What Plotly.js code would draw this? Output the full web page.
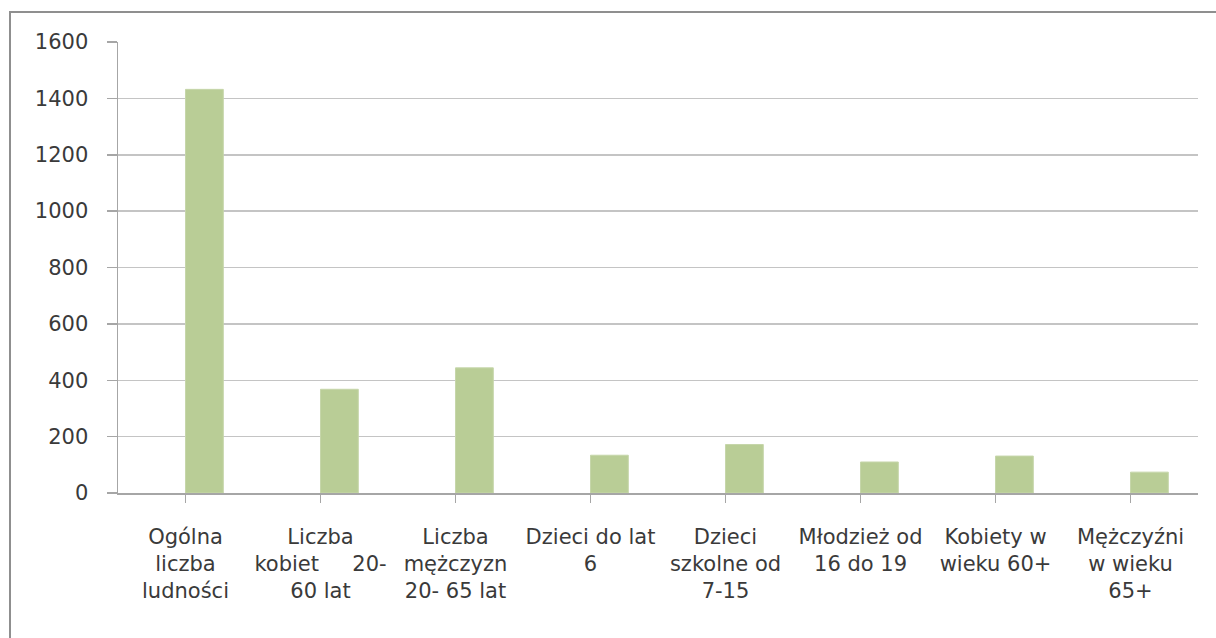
<!DOCTYPE html>
<html>
<head>
<meta charset="utf-8">
<script src="https://cdn.plot.ly/plotly-3.0.1.min.js"></script>
<style>
  html, body { margin: 0; padding: 0; background: #fff; }
  #wrap { position: relative; width: 1216px; height: 638px; overflow: hidden; }
  #chart { position: absolute; left: 0; top: 0; width: 1216px; height: 638px; }
  #frame { position: absolute; left: 9px; top: 11px; width: 1400px; height: 800px;
           border-left: 2px solid #8f8f8f; border-top: 2px solid #8f8f8f; pointer-events: none; }
</style>
</head>
<body>
<div id="wrap">
  <div id="chart"></div>
  <div id="frame"></div>
</div>
<script>
const categories = [
  "Ogólna<br>liczba<br>ludności",
  "Liczba<br>kobiet\u00a0\u00a0\u00a0\u00a0\u00a020-<br>60 lat",
  "Liczba<br>mężczyzn<br>20- 65 lat",
  "Dzieci do lat<br>6",
  "Dzieci<br>szkolne od<br>7-15",
  "Młodzież od<br>16 do 19",
  "Kobiety w<br>wieku 60+",
  "Mężczyźni<br>w wieku<br>65+"
];
const values = [1432, 368, 444, 134, 172, 110, 131, 74];
const yTicks = [0, 200, 400, 600, 800, 1000, 1200, 1400, 1600];

const trace = {
  type: "bar",
  x: categories.map((c, i) => i),
  y: values,
  width: 0.28,
  offset: 0,
  marker: { color: "#b9cd96", line: { color: "#c6d6aa", width: 1 } },
  hoverinfo: "none"
};

const layout = {
  width: 1216, height: 638,
  margin: { l: 118, r: 18, t: 42, b: 145 },
  paper_bgcolor: "rgba(0,0,0,0)",
  plot_bgcolor: "#fff",
  showlegend: false,
  font: { family: "DejaVu Sans, Liberation Sans, sans-serif", size: 21, color: "#3a3a3a" },
  xaxis: {
    tickmode: "array",
    tickvals: categories.map((c, i) => i),
    ticktext: categories,
    range: [-0.5, 7.5],
    showgrid: false,
    zeroline: false,
    showline: true, linecolor: "#a6a6a6", linewidth: 1.5,
    ticks: "outside", ticklen: 8, tickcolor: "#a6a6a6", tickwidth: 1.5,
    tickson: "boundaries",
    ticklabelstandoff: 16,
    tickfont: { size: 21, color: "#3a3a3a" },
    fixedrange: true
  },
  yaxis: {
    range: [0, 1600],
    tickmode: "array",
    tickvals: yTicks,
    ticktext: yTicks.map(String),
    showgrid: true, gridcolor: "#c4c4c4", gridwidth: 1.5,
    zeroline: false,
    showline: true, linecolor: "#a6a6a6", linewidth: 1.5,
    ticks: "outside", ticklen: 10, tickcolor: "#a6a6a6", tickwidth: 1.5,
    ticklabelstandoff: 14,
    tickfont: { size: 21, color: "#3a3a3a" },
    fixedrange: true
  }
};

Plotly.newPlot("chart", [trace], layout, { displayModeBar: false, staticPlot: true });
</script>
</body>
</html>
